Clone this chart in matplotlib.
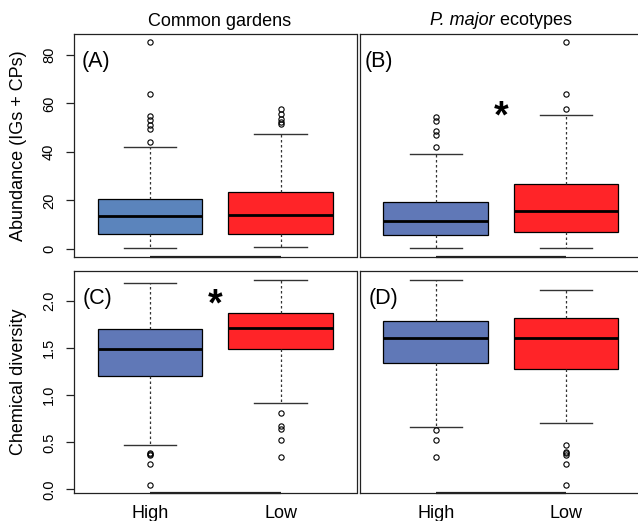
import matplotlib
matplotlib.use("Agg")
import matplotlib.pyplot as plt

plt.rcParams['font.family'] = ['Liberation Sans', 'DejaVu Sans']

groups = ["High", "Low"]

# box stats: q1, median, q3, lower whisker, upper whisker, outliers
# (A) abundance, common gardens
abund_garden_q1 = [6.1, 6.0]
abund_garden_med = [13.5, 13.9]
abund_garden_q3 = [20.6, 23.5]
abund_garden_lo = [0.3, 0.6]
abund_garden_hi = [42.1, 47.2]
abund_garden_out = [[44.0, 49.3, 51.1, 53.0, 54.8, 63.9, 85.3],
                    [51.5, 52.5, 53.5, 55.5, 57.8]]

# (B) abundance, P. major ecotypes
abund_eco_q1 = [5.5, 6.8]
abund_eco_med = [11.6, 15.7]
abund_eco_q3 = [19.3, 26.7]
abund_eco_lo = [0.3, 0.3]
abund_eco_hi = [39.3, 55.2]
abund_eco_out = [[42.1, 47.0, 48.6, 52.9, 54.5],
                 [57.7, 64.0, 85.3]]

# (C) chemical diversity, common gardens
div_garden_q1 = [1.20, 1.49]
div_garden_med = [1.49, 1.72]
div_garden_q3 = [1.70, 1.88]
div_garden_lo = [0.47, 0.92]
div_garden_hi = [2.19, 2.23]
div_garden_out = [[0.39, 0.375, 0.36, 0.27, 0.045],
                  [0.81, 0.67, 0.64, 0.52, 0.34]]

# (D) chemical diversity, P. major ecotypes
div_eco_q1 = [1.34, 1.28]
div_eco_med = [1.61, 1.61]
div_eco_q3 = [1.79, 1.82]
div_eco_lo = [0.66, 0.71]
div_eco_hi = [2.23, 2.12]
div_eco_out = [[0.63, 0.52, 0.34],
               [0.475, 0.40, 0.385, 0.37, 0.27, 0.045]]

blue_a = "#5B84BC"
blue = "#6078B7"
red = "#FF2428"
frame_col = "#222222"

W, H = 638, 521
fig = plt.figure(figsize=(W / 100, H / 100), dpi=100)


def px_axes(x0, y0, x1, y1):
    return fig.add_axes([x0 / W, 1 - y1 / H, (x1 - x0) / W, (y1 - y0) / H])


def draw_panel(ax, q1, med, q3, lo, hi, out, colors, ylim):
    stats = []
    for i in range(2):
        stats.append(dict(q1=q1[i], med=med[i], q3=q3[i], whislo=lo[i],
                          whishi=hi[i], fliers=out[i], label=groups[i]))
    res = ax.bxp(stats, positions=[1, 2], widths=0.8, capwidths=0.4,
                 patch_artist=True, showfliers=True,
                 boxprops=dict(edgecolor="black", linewidth=0.9),
                 medianprops=dict(color="black", linewidth=2.0),
                 whiskerprops=dict(color="#333333", linewidth=0.9,
                                   linestyle=(0, (2, 2))),
                 capprops=dict(color="#333333", linewidth=1.0),
                 flierprops=dict(marker="o", markersize=3.8,
                                 markerfacecolor="none",
                                 markeredgecolor="black",
                                 markeredgewidth=0.8))
    for patch, c in zip(res["boxes"], colors):
        patch.set_facecolor(c)
    ax.set_xlim(0.42, 2.58)
    ax.set_ylim(*ylim)
    for s in ax.spines.values():
        s.set_color(frame_col)
        s.set_linewidth(0.9)
    # R style axis line between first and last tick
    ax.plot([1, 2], [0, 0], transform=ax.get_xaxis_transform(),
            color=frame_col, lw=1.6, clip_on=False, solid_capstyle="butt")


abund_lim = (-3.2, 88.7)
div_lim = (-0.039, 2.322)

axA = px_axes(74, 34, 356.5, 256.5)
axB = px_axes(360, 34, 642, 256.5)
axC = px_axes(74, 271, 356.5, 493)
axD = px_axes(360, 271, 642, 493)

draw_panel(axA, abund_garden_q1, abund_garden_med, abund_garden_q3,
           abund_garden_lo, abund_garden_hi, abund_garden_out,
           [blue_a, red], abund_lim)
draw_panel(axB, abund_eco_q1, abund_eco_med, abund_eco_q3,
           abund_eco_lo, abund_eco_hi, abund_eco_out, [blue, red], abund_lim)
draw_panel(axC, div_garden_q1, div_garden_med, div_garden_q3,
           div_garden_lo, div_garden_hi, div_garden_out, [blue, red], div_lim)
draw_panel(axD, div_eco_q1, div_eco_med, div_eco_q3,
           div_eco_lo, div_eco_hi, div_eco_out, [blue, red], div_lim)

# y axes on the left panels only
abund_ticks = [0, 20, 40, 60, 80]
div_ticks = [0.0, 0.5, 1.0, 1.5, 2.0]
axA.set_yticks(abund_ticks)
axA.set_yticklabels([str(t) for t in abund_ticks])
axC.set_yticks(div_ticks)
axC.set_yticklabels(["%.1f" % t for t in div_ticks])
for ax in (axA, axC):
    ax.tick_params(axis="y", length=6, width=0.9, color=frame_col,
                   pad=7, labelsize=10.5)
    for lab in ax.get_yticklabels():
        lab.set_rotation(90)
        lab.set_va("center")
        lab.set_ha("right")
for ax in (axB, axD):
    ax.set_yticks([])

for ax in (axA, axB):
    ax.set_xticks([])
for ax in (axC, axD):
    ax.set_xticks([1, 2])
    ax.set_xticklabels(groups)
    ax.tick_params(axis="x", length=0, pad=9, labelsize=13)

# axis titles
fig.text(19 / W, 1 - 146 / H, "Abundance (IGs + CPs)", rotation=90,
         ha="center", va="center", fontsize=13)
fig.text(19 / W, 1 - 382 / H, "Chemical diversity", rotation=90,
         ha="center", va="center", fontsize=13)

# column headings
axA.text(0.517, 1.036, "Common gardens", transform=axA.transAxes,
         ha="center", va="baseline", fontsize=13)
# mixed italic / upright heading: italic part placed first, rest appended
fig.canvas.draw()
rend = fig.canvas.get_renderer()
t_it = axB.text(0, 1.04, "P. major", transform=axB.transAxes,
                ha="left", va="baseline", fontsize=13, style="italic")
t_rm = axB.annotate(" ecotypes", xy=(1, 0), xycoords=t_it,
                    ha="left", va="bottom", fontsize=13)
w_it = t_it.get_window_extent(rend).width
w_rm = t_rm.get_window_extent(rend).width
ax_bb = axB.get_window_extent(rend)
start = ax_bb.x0 + 0.5 * ax_bb.width - 0.5 * (w_it + w_rm)
t_it.set_x((start - ax_bb.x0) / ax_bb.width)

# panel letters
for ax, lab, dx in ((axA, "(A)", 0.028), (axB, "(B)", 0.018),
                    (axC, "(C)", 0.03), (axD, "(D)", 0.03)):
    ax.text(dx, 0.85, lab, transform=ax.transAxes, ha="left",
            va="baseline", fontsize=15.5)

# significance stars
axB.text(1.5, 50.0, "*", ha="center", va="baseline", fontsize=27,
         fontweight="bold")
axC.text(1.5, 1.85, "*", ha="center", va="baseline", fontsize=27,
         fontweight="bold")

fig.savefig("out.png", dpi=100)
